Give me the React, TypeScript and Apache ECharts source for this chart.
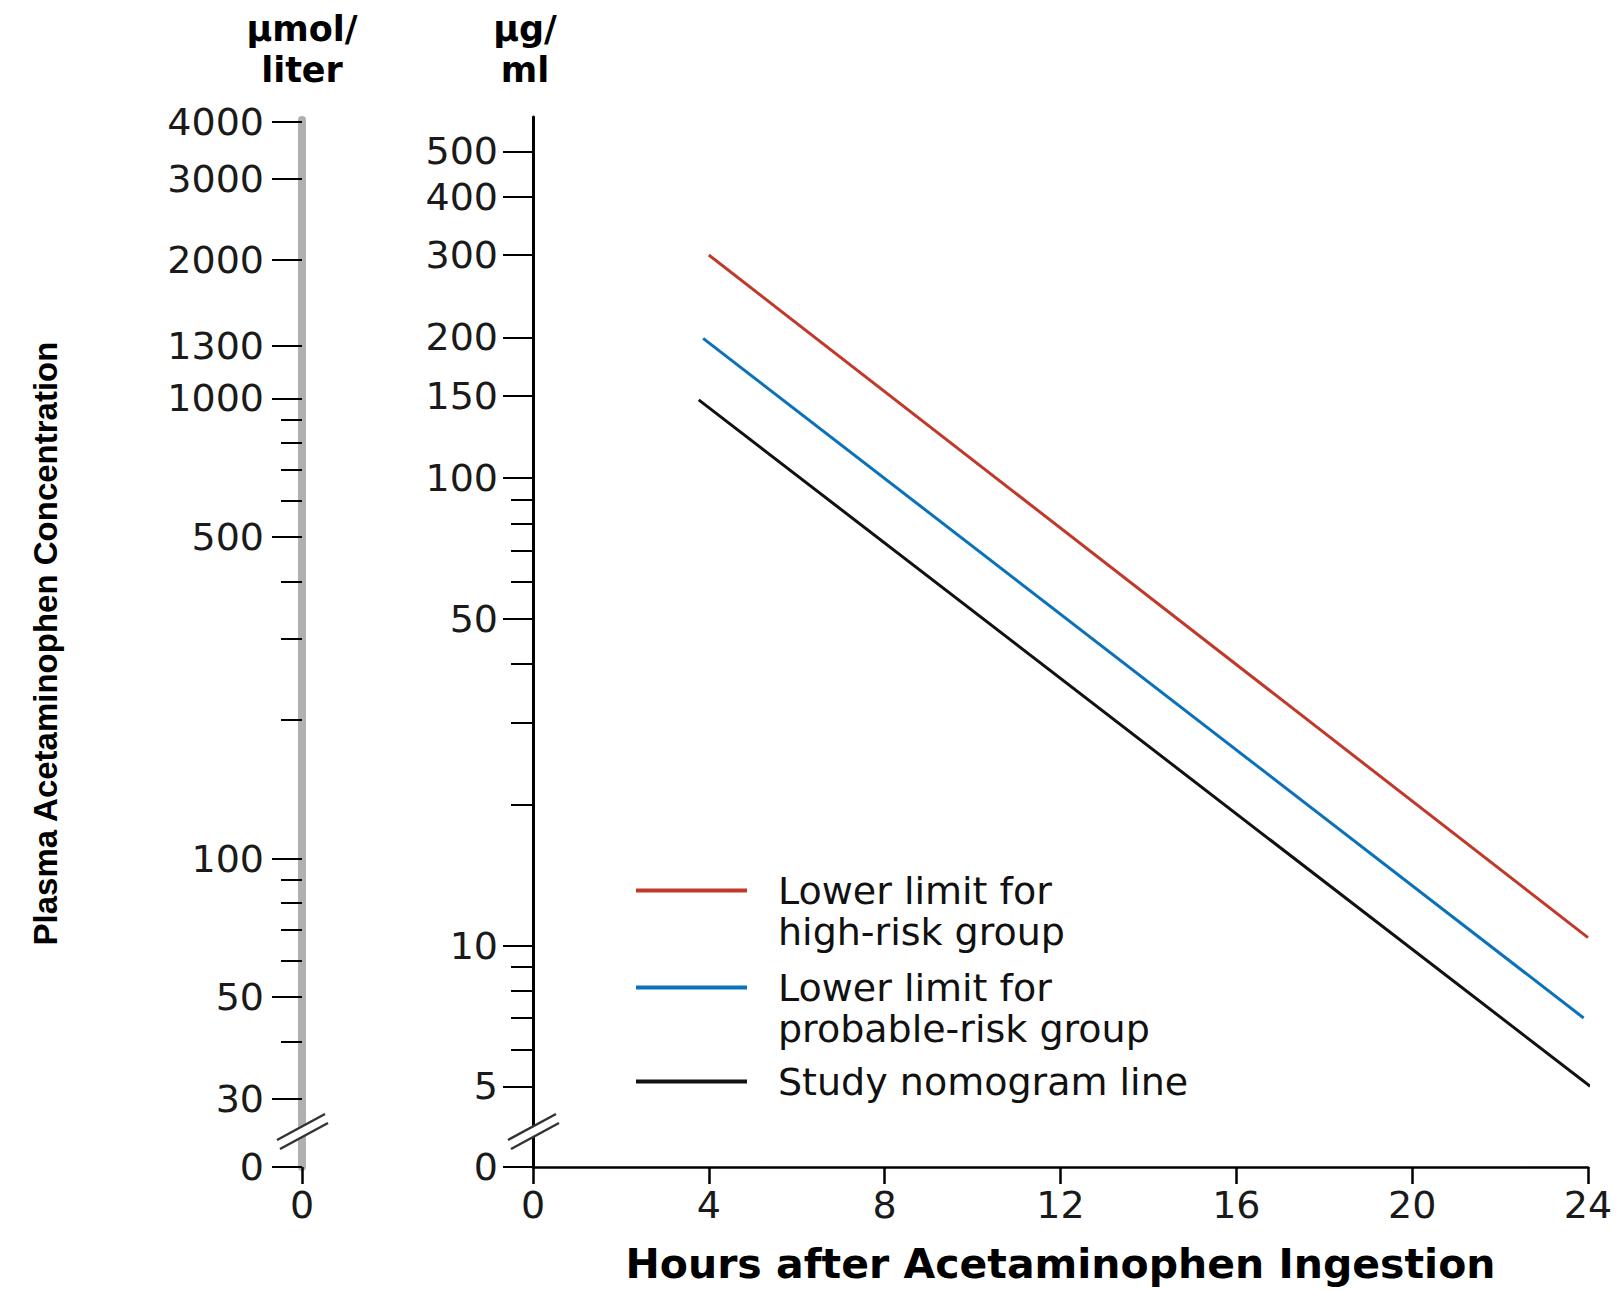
import React, { useEffect, useRef } from "react";
import * as echarts from "echarts";

// ---- data ----
const hoursTicks = [0, 4, 8, 12, 16, 20, 24];

// µg/ml scale (main, log)
const ugMin = 3.36;
const ugMax = 592;
const ugZero = 3.362; // drawn as "0" (axis break)
const ugMajorTicks = [ugZero, 5, 10, 50, 100, 150, 200, 300, 400, 500];
const ugMinorTicks = [6, 7, 8, 9, 20, 30, 40, 60, 70, 80, 90];

// µmol/liter scale (left, log)
const umolMin = 21.35;
const umolMax = 4031;
const umolZero = 21.36; // drawn as "0" (axis break)
const umolMajorTicks = [umolZero, 30, 50, 100, 500, 1000, 1300, 2000, 3000, 4000];
const umolMinorTicks = [40, 60, 70, 80, 90, 200, 300, 400, 600, 700, 800, 900];

const seriesNames = [
  "Lower limit for\nhigh-risk group",
  "Lower limit for\nprobable-risk group",
  "Study nomogram line",
];
const seriesColors = ["#c0392b", "#0b72b9", "#111111"];
const highRisk = [
  [4, 300],
  [24, 10.4],
];
const probableRisk = [
  [3.87, 199],
  [23.9, 7.0],
];
const studyLine = [
  [3.77, 147],
  [24.05, 5.0],
];

const FONT = "DejaVu Sans";
const LABEL_COLOR = "#1a1a1a";

export default function App() {
  const ref = useRef<HTMLDivElement>(null);

  useEffect(() => {
    if (!ref.current) return;
    const chart = echarts.init(ref.current, null, { renderer: "svg" });

    const tickLine = { color: "#000", width: 2 };
    const labelStyle = { fontFamily: FONT, fontSize: 38, color: LABEL_COLOR };
    const legendText = { fontFamily: FONT, fontSize: 38, color: "#111", lineHeight: 41 };

    const breakMark = (dx: number) => ({
      type: "group",
      x: dx,
      y: 0,
      z: 100,
      children: [
        {
          type: "polygon",
          shape: { points: [[508, 1140], [556, 1114], [559, 1123], [511, 1149]] },
          style: { fill: "#ffffff" },
          z: 100,
        },
        {
          type: "line",
          shape: { x1: 508, y1: 1140, x2: 556, y2: 1114 },
          style: { stroke: "#333", lineWidth: 2.5 },
          z: 101,
        },
        {
          type: "line",
          shape: { x1: 511, y1: 1149, x2: 559, y2: 1123 },
          style: { stroke: "#333", lineWidth: 2.5 },
          z: 101,
        },
      ],
    });

    // two-line legend entries get an empty leading line so that the first
    // text line sits level with the legend stroke, as in the reference
    const mkLegend = (i: number, top: number, twoLine: boolean) => ({
      show: true,
      data: [seriesNames[i]],
      left: 636,
      top,
      orient: "vertical",
      padding: 0,
      itemWidth: 111,
      itemHeight: 4,
      icon: "rect",
      selectedMode: false,
      formatter: (name: string) => (twoLine ? "\n" + name : name),
      textStyle: { ...legendText, padding: [0, 0, 0, 26] },
    });

    const option: any = {
      animation: false,
      backgroundColor: "#ffffff",
      grid: [
        { left: 533, top: 117, width: 1055, height: 1050, outerBoundsMode: "none", containLabel: false },
        { left: 302, top: 120, width: 20, height: 1047, outerBoundsMode: "none", containLabel: false },
      ],
      xAxis: [
        {
          type: "value",
          gridIndex: 0,
          min: 0,
          max: 24,
          interval: 4,
          axisLine: { show: true, onZero: false, lineStyle: { color: "#000", width: 2.5 } },
          axisTick: { show: true, length: 17, lineStyle: { color: "#000", width: 2.5 } },
          axisLabel: { ...labelStyle, margin: 19, customValues: hoursTicks },
          splitLine: { show: false },
          name: "Hours after Acetaminophen Ingestion",
          nameLocation: "middle",
          nameGap: 76,
          nameTextStyle: { fontFamily: FONT, fontWeight: "bold", fontSize: 41, color: "#000" },
        },
        {
          type: "value",
          gridIndex: 1,
          min: 0,
          max: 1,
          axisLine: { show: false, onZero: false },
          axisTick: { show: true, customValues: [0], length: 17, lineStyle: { color: "#000", width: 2.5 } },
          axisLabel: { ...labelStyle, margin: 19, customValues: [0] },
          splitLine: { show: false },
        },
      ],
      yAxis: [
        {
          type: "log",
          logBase: 10,
          gridIndex: 0,
          min: ugMin,
          max: ugMax,
          position: "left",
          axisLine: { show: true, onZero: false, lineStyle: { color: "#000", width: 3 } },
          axisTick: { show: true, customValues: ugMajorTicks, length: 30, lineStyle: tickLine },
          axisLabel: {
            ...labelStyle,
            customValues: ugMajorTicks,
            margin: 35,
            formatter: (v: number) => (v < 4 ? "0" : String(Math.round(v))),
          },
          splitLine: { show: false },
          minorTick: { show: false },
          name: "µg/\nml",
          nameLocation: "end",
          nameGap: 27,
          nameTextStyle: {
            fontFamily: FONT,
            fontWeight: "bold",
            fontSize: 35,
            lineHeight: 41,
            color: "#000",
            align: "center",
            padding: [0, 16, 0, 0],
          },
        },
        {
          type: "log",
          logBase: 10,
          gridIndex: 0,
          min: ugMin,
          max: ugMax,
          position: "left",
          axisLine: { show: false, onZero: false },
          axisTick: { show: true, customValues: ugMinorTicks, length: 22, lineStyle: tickLine },
          axisLabel: { show: false },
          splitLine: { show: false },
        },
        {
          type: "log",
          logBase: 10,
          gridIndex: 1,
          min: umolMin,
          max: umolMax,
          position: "left",
          axisLine: { show: true, onZero: false, lineStyle: { color: "#b0b0b0", width: 8 } },
          axisTick: { show: true, customValues: umolMajorTicks, length: 30, lineStyle: tickLine },
          axisLabel: {
            ...labelStyle,
            customValues: umolMajorTicks,
            margin: 38,
            formatter: (v: number) => (v < 25 ? "0" : String(Math.round(v))),
          },
          splitLine: { show: false },
          name: "µmol/\nliter",
          nameLocation: "end",
          nameGap: 30,
          nameTextStyle: {
            fontFamily: FONT,
            fontWeight: "bold",
            fontSize: 35,
            lineHeight: 41,
            color: "#000",
            align: "center",
          },
        },
        {
          type: "log",
          logBase: 10,
          gridIndex: 1,
          min: umolMin,
          max: umolMax,
          position: "left",
          axisLine: { show: false, onZero: false },
          axisTick: { show: true, customValues: umolMinorTicks, length: 21, lineStyle: tickLine },
          axisLabel: { show: false },
          splitLine: { show: false },
          name: "Plasma Acetaminophen Concentration",
          nameLocation: "middle",
          nameRotate: 90,
          nameGap: 240,
          nameTextStyle: { fontFamily: "Liberation Sans", fontWeight: "bold", fontSize: 33, color: "#000" },
        },
      ],
      legend: [mkLegend(0, 829, true), mkLegend(1, 926, true), mkLegend(2, 1061, false)],
      series: [highRisk, probableRisk, studyLine].map((d, i) => ({
        type: "line",
        name: seriesNames[i],
        xAxisIndex: 0,
        yAxisIndex: 0,
        data: d,
        symbol: "none",
        clip: false,
        color: seriesColors[i],
        lineStyle: { color: seriesColors[i], width: 3 },
        z: 5,
      })),
      graphic: [breakMark(0), breakMark(-231)],
    };

    chart.setOption(option);
    return () => chart.dispose();
  }, []);

  return (
    <div
      ref={ref}
      style={{ position: "absolute", left: 0, top: 0, width: 1622, height: 1291, background: "#fff" }}
    />
  );
}
